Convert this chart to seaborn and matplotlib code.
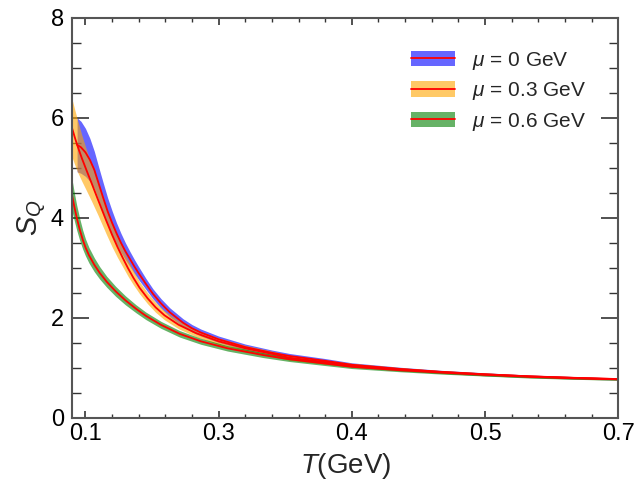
import numpy as np
import matplotlib
matplotlib.use("Agg")
import matplotlib.pyplot as plt
import seaborn as sns
from matplotlib.patches import Patch
from matplotlib.lines import Line2D
from matplotlib.ticker import AutoMinorLocator, MultipleLocator

# ---- data ----
# mu = 0 GeV: temperature, central S_Q, half width of the band
t_mu0 = [0.0906, 0.095, 0.100, 0.105, 0.110, 0.115, 0.120, 0.125, 0.130, 0.135,
         0.140, 0.145, 0.150, 0.155, 0.160, 0.168, 0.176, 0.185, 0.195, 0.210,
         0.220, 0.230, 0.250, 0.280, 0.310, 0.330, 0.370, 0.400, 0.455, 0.500,
         0.550, 0.600, 0.650, 0.700]
s_mu0 = [5.46, 5.41, 5.31, 5.16, 4.96, 4.68, 4.40, 4.13, 3.90, 3.69,
         3.50, 3.33, 3.18, 3.03, 2.89, 2.68, 2.48, 2.29, 2.11, 1.90,
         1.79, 1.705, 1.57, 1.415, 1.30, 1.236, 1.14, 1.06, 0.975, 0.92,
         0.87, 0.83, 0.80, 0.775]
w_mu0 = [0.54, 0.52, 0.48, 0.43, 0.37, 0.33, 0.30, 0.27, 0.24, 0.21,
         0.19, 0.17, 0.15, 0.14, 0.13, 0.11, 0.10, 0.095, 0.09, 0.08,
         0.075, 0.07, 0.065, 0.06, 0.055, 0.05, 0.045, 0.04, 0.035, 0.03,
         0.03, 0.025, 0.025, 0.02]

# mu = 0.3 GeV
t_mu3 = [0.085, 0.088, 0.091, 0.096, 0.101, 0.107, 0.114, 0.1233, 0.130, 0.136,
         0.142, 0.148, 0.154, 0.161, 0.170, 0.179, 0.189, 0.205, 0.225, 0.250,
         0.280, 0.310, 0.330, 0.370, 0.400, 0.455, 0.500, 0.550, 0.600, 0.650,
         0.700]
s_mu3 = [5.79, 5.61, 5.44, 5.19, 4.96, 4.69, 4.37, 3.95, 3.66, 3.42,
         3.20, 2.99, 2.80, 2.60, 2.39, 2.21, 2.05, 1.86, 1.69, 1.53,
         1.39, 1.28, 1.20, 1.115, 1.05, 0.97, 0.915, 0.868, 0.828, 0.798,
         0.773]
w_mu3 = [0.58, 0.55, 0.52, 0.46, 0.41, 0.36, 0.31, 0.27, 0.24, 0.21,
         0.18, 0.16, 0.14, 0.12, 0.11, 0.10, 0.09, 0.08, 0.07, 0.065,
         0.06, 0.055, 0.05, 0.045, 0.04, 0.035, 0.03, 0.03, 0.025, 0.025,
         0.02]

# mu = 0.6 GeV
t_mu6 = [0.0848, 0.0875, 0.0902, 0.0935, 0.097, 0.100, 0.104, 0.110, 0.116, 0.124,
         0.134, 0.145, 0.157, 0.168, 0.185, 0.206, 0.230, 0.260, 0.300, 0.330,
         0.400, 0.455, 0.500, 0.550, 0.600, 0.650, 0.700]
s_mu6 = [4.46, 4.22, 4.00, 3.77, 3.56, 3.41, 3.25, 3.06, 2.90, 2.72,
         2.53, 2.35, 2.18, 2.04, 1.86, 1.68, 1.53, 1.39, 1.255, 1.17,
         1.02, 0.95, 0.905, 0.86, 0.82, 0.79, 0.77]
w_mu6 = [0.32, 0.28, 0.25, 0.22, 0.19, 0.17, 0.155, 0.14, 0.125, 0.11,
         0.10, 0.09, 0.08, 0.075, 0.07, 0.065, 0.06, 0.055, 0.05, 0.045,
         0.035, 0.03, 0.03, 0.025, 0.025, 0.02, 0.02]

labels = [r"$\mu$ = 0 GeV", r"$\mu$ = 0.3 GeV", r"$\mu$ = 0.6 GeV"]
band_colors = ["blue", "orange", "green"]

x_ticks = [0.1, 0.25, 0.4, 0.55, 0.7]
x_ticklabels = ["0.1", "0.3", "0.4", "0.5", "0.7"]

# ---- style ----
sns.set_theme(style="ticks")
plt.rcParams["font.family"] = ["Liberation Sans", "DejaVu Sans"]
plt.rcParams["mathtext.fontset"] = "custom"
plt.rcParams["mathtext.rm"] = "Liberation Sans"
plt.rcParams["mathtext.it"] = "Liberation Sans:italic"

fig = plt.figure(figsize=(6.44, 4.83), dpi=100)
ax = fig.add_axes([0.112, 0.135, 0.848, 0.828])

series = [(t_mu0, s_mu0, w_mu0), (t_mu3, s_mu3, w_mu3), (t_mu6, s_mu6, w_mu6)]
for (t, s, w), col in zip(series, band_colors):
    t = np.array(t)
    s = np.array(s)
    w = np.array(w)
    ax.fill_between(t, s - w, s + w, color=col, alpha=0.6, lw=0)

for (t, s, w) in series:
    sns.lineplot(x=t, y=s, color="red", lw=1.3, ax=ax, sort=False)

ax.set_xlim(0.085, 0.7)
ax.set_ylim(0, 8)
ax.set_xticks(x_ticks)
ax.set_xticklabels(x_ticklabels)
ax.xaxis.set_minor_locator(AutoMinorLocator(5))
ax.yaxis.set_major_locator(MultipleLocator(2))
ax.yaxis.set_minor_locator(MultipleLocator(0.5))

ax.tick_params(axis="both", which="both", direction="in", top=True, right=True,
               labelsize=17, colors="#333333", labelcolor="black")
ax.tick_params(axis="y", which="major", length=12, width=1.2, pad=6)
ax.tick_params(axis="y", which="minor", length=6.5, width=1.0)
ax.tick_params(axis="x", which="major", length=5, width=1.2, pad=4)
ax.tick_params(axis="x", which="minor", length=3, width=1.0)
for sp in ax.spines.values():
    sp.set_color("#555555")
    sp.set_linewidth(1.5)

ax.set_xlabel(r"$T$(GeV)", fontsize=20, labelpad=4)
ax.set_ylabel(r"$S_Q$", fontsize=21, labelpad=1)

handles = [(Patch(facecolor=c, alpha=0.6, lw=0), Line2D([], [], color="red", lw=1.3))
           for c in band_colors]
ax.legend(handles, labels, loc="upper left", bbox_to_anchor=(0.621, 0.92),
          frameon=False, fontsize=15, handlelength=2.1, handleheight=0.75,
          handletextpad=0.8, labelspacing=0.4, borderpad=0, borderaxespad=0)

fig.savefig("out.png", dpi=100)
